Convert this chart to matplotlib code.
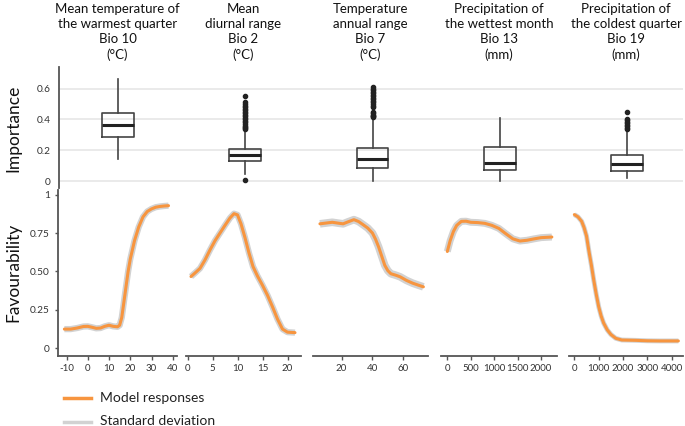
import matplotlib
matplotlib.use("Agg")
import matplotlib.pyplot as plt
from matplotlib.lines import Line2D

plt.rcParams['font.family'] = ['Lato', 'DejaVu Sans']

titles = [
    "Mean temperature of\nthe warmest quarter\nBio 10\n(°C)",
    "Mean\ndiurnal range\nBio 2\n(°C)",
    "Temperature\nannual range\nBio 7\n(°C)",
    "Precipitation of\nthe wettest month\nBio 13\n(mm)",
    "Precipitation of\nthe coldest quarter\nBio 19\n(mm)",
]

# Importance box statistics
box_q1 = [0.288, 0.131, 0.082, 0.071, 0.065]
box_med = [0.363, 0.172, 0.144, 0.118, 0.110]
box_q3 = [0.443, 0.211, 0.217, 0.221, 0.172]
box_wlo = [0.146, 0.045, 0.0, 0.002, 0.017]
box_whi = [0.660, 0.335, 0.410, 0.410, 0.330]
box_fliers = [
    [],
    [0.005, 0.34, 0.345, 0.35, 0.36, 0.37, 0.38, 0.39, 0.40, 0.41, 0.42, 0.43,
     0.44, 0.45, 0.46, 0.47, 0.48, 0.49, 0.50, 0.51, 0.555],
    [0.415, 0.42, 0.425, 0.43, 0.44, 0.45, 0.48, 0.49, 0.50, 0.51, 0.52, 0.53,
     0.54, 0.55, 0.56, 0.57, 0.58, 0.59, 0.60, 0.608],
    [],
    [0.335, 0.345, 0.355, 0.365, 0.375, 0.385, 0.395, 0.405, 0.447],
]

# Favourability responses
bio10_x = [-11, -8, -5, -2, 0, 2, 4, 6, 8, 10, 12, 14, 15, 16, 17, 18, 19, 20,
           21, 22, 23, 24, 26, 28, 30, 32, 34, 36, 38]
bio10_y = [0.125, 0.125, 0.132, 0.142, 0.143, 0.137, 0.130, 0.132, 0.143, 0.150,
           0.143, 0.140, 0.150, 0.20, 0.30, 0.40, 0.50, 0.58, 0.64, 0.70, 0.745,
           0.79, 0.855, 0.89, 0.907, 0.918, 0.923, 0.926, 0.928]

bio2_x = [0.7, 1.5, 2.5, 3.5, 4.5, 5.5, 6.5, 7.5, 8.5, 9.3, 10.0, 10.7, 11.5,
          12.3, 13.1, 14.0, 15.0, 16.0, 17.0, 18.0, 19.0, 20.0, 21.5]
bio2_y = [0.467, 0.49, 0.52, 0.575, 0.64, 0.70, 0.75, 0.80, 0.848, 0.876, 0.868,
          0.81, 0.72, 0.62, 0.532, 0.47, 0.41, 0.345, 0.27, 0.19, 0.125, 0.105, 0.102]

bio7_x = [6, 10, 14, 18, 21, 24, 28, 31, 34, 37, 40, 42, 44, 46, 48, 50, 52, 55,
          58, 62, 66, 70, 73]
bio7_y = [0.81, 0.815, 0.82, 0.814, 0.81, 0.822, 0.837, 0.825, 0.804, 0.782, 0.75,
          0.71, 0.66, 0.60, 0.54, 0.505, 0.485, 0.476, 0.465, 0.442, 0.424, 0.41, 0.40]

bio13_x = [0, 60, 130, 200, 300, 400, 500, 650, 800, 950, 1100, 1250, 1400, 1550,
           1700, 1850, 2000, 2230]
bio13_y = [0.63, 0.70, 0.76, 0.80, 0.826, 0.827, 0.82, 0.818, 0.813, 0.80, 0.78,
           0.745, 0.712, 0.698, 0.703, 0.712, 0.72, 0.724]

bio19_x = [0, 150, 300, 400, 500, 600, 700, 800, 900, 1000, 1100, 1200, 1350, 1500,
           1700, 1950, 2500, 3000, 3500, 4270]
bio19_y = [0.87, 0.855, 0.826, 0.785, 0.73, 0.63, 0.54, 0.44, 0.35, 0.27, 0.21,
           0.165, 0.12, 0.09, 0.065, 0.054, 0.052, 0.049, 0.048, 0.048]

curves = [(bio10_x, bio10_y), (bio2_x, bio2_y), (bio7_x, bio7_y),
          (bio13_x, bio13_y), (bio19_x, bio19_y)]
sd_width = [4.5, 4.5, 5.5, 5, 3.5]
xlims = [(-14, 42), (-0.3, 22.7), (1.5, 76), (-135, 2340), (-220, 4460)]
xticks = [[-10, 0, 10, 20, 30, 40], [0, 5, 10, 15, 20], [20, 40, 60],
          [0, 500, 1000, 1500, 2000], [0, 1000, 2000, 3000, 4000]]

ORANGE = '#f7953f'
GREY = '#d2d2d2'
DARK = '#333333'

W, H = 685, 426
fig = plt.figure(figsize=(W / 100, H / 100), dpi=100)

def fx(px):
    return px / W

def fy(py):
    return 1 - py / H

# ---- top: importance boxplots
axt = fig.add_axes([fx(59), fy(188), fx(683) - fx(59), fy(67) - fy(188)])
stats = []
for i in range(5):
    stats.append(dict(med=box_med[i], q1=box_q1[i], q3=box_q3[i],
                      whislo=box_wlo[i], whishi=box_whi[i], fliers=box_fliers[i]))
axt.bxp(stats, positions=[1, 2, 3, 4, 5], widths=0.25, showfliers=True,
        boxprops=dict(color='#444444', linewidth=1.2),
        whiskerprops=dict(color='#444444', linewidth=1.2),
        capprops=dict(linewidth=0),
        medianprops=dict(color='#222222', linewidth=2.2),
        flierprops=dict(marker='o', markersize=3, markerfacecolor='#222222',
                        markeredgecolor='#222222'))
axt.set_xlim(0.535, 5.44)
axt.set_ylim(-0.045, 0.74)
axt.set_yticks([0, 0.2, 0.4, 0.6])
axt.set_yticklabels(['0', '0.2', '0.4', '0.6'])
axt.yaxis.grid(True, color='#e6e6e6', linewidth=1.2)
axt.set_axisbelow(True)
axt.set_xticks([])
for s in ['top', 'right', 'bottom']:
    axt.spines[s].set_visible(False)
axt.spines['left'].set_color('#555555')
axt.spines['left'].set_linewidth(1.3)
axt.tick_params(axis='y', length=0, labelsize=7.3, labelcolor=DARK, pad=6)

# ---- bottom: favourability curves
panels = [(58, 177), (186, 301), (313, 428), (441, 557), (569, 683)]
for i, (l, r) in enumerate(panels):
    ax = fig.add_axes([fx(l), fy(356), fx(r) - fx(l), fy(190) - fy(356)])
    xs, ys = curves[i]
    ax.plot(xs, ys, color=GREY, linewidth=sd_width[i], solid_capstyle='butt',
            solid_joinstyle='round')
    ax.plot(xs, ys, color=ORANGE, linewidth=2.2, solid_capstyle='round',
            solid_joinstyle='round')
    ax.set_xlim(*xlims[i])
    ax.set_ylim(-0.05, 1.03)
    ax.set_xticks(xticks[i])
    ax.set_xticklabels([str(t) for t in xticks[i]])
    for s in ['top', 'right']:
        ax.spines[s].set_visible(False)
    ax.spines['bottom'].set_color('#555555')
    ax.spines['bottom'].set_linewidth(1.3)
    ax.tick_params(axis='x', length=3, width=1, color='#555555', labelsize=7,
                   labelcolor=DARK, pad=3)
    if i == 0:
        ax.set_yticks([0, 0.25, 0.5, 0.75, 1])
        ax.set_yticklabels(['0', '0.25', '0.50', '0.75', '1'])
        ax.spines['left'].set_color('#555555')
        ax.spines['left'].set_linewidth(1.3)
        ax.tick_params(axis='y', length=2, width=1, color='#555555', labelsize=7.3,
                       labelcolor=DARK, pad=4)
    else:
        ax.spines['left'].set_visible(False)
        ax.set_yticks([])
    cx = (l + r) / 2
    fig.text(fx(cx), fy(3), titles[i], ha='center', va='top', fontsize=9.5,
             color='#111111', linespacing=1.32)

fig.text(fx(13), fy(128), 'Importance', rotation=90, ha='center', va='center',
         fontsize=12.5, color='#111111')
fig.text(fx(13), fy(272), 'Favourability', rotation=90, ha='center', va='center',
         fontsize=12.5, color='#111111')

# legend
fig.add_artist(Line2D([fx(64), fx(91)], [fy(398), fy(398)], color=ORANGE,
                      linewidth=2.5, transform=fig.transFigure))
fig.add_artist(Line2D([fx(64), fx(91)], [fy(421.5), fy(421.5)], color=GREY,
                      linewidth=2.5, transform=fig.transFigure))
fig.text(fx(100), fy(398), 'Model responses', ha='left', va='center',
         fontsize=10, color='#222222')
fig.text(fx(100), fy(421), 'Standard deviation', ha='left', va='center',
         fontsize=10, color='#222222')

fig.savefig('out.png', dpi=100)
